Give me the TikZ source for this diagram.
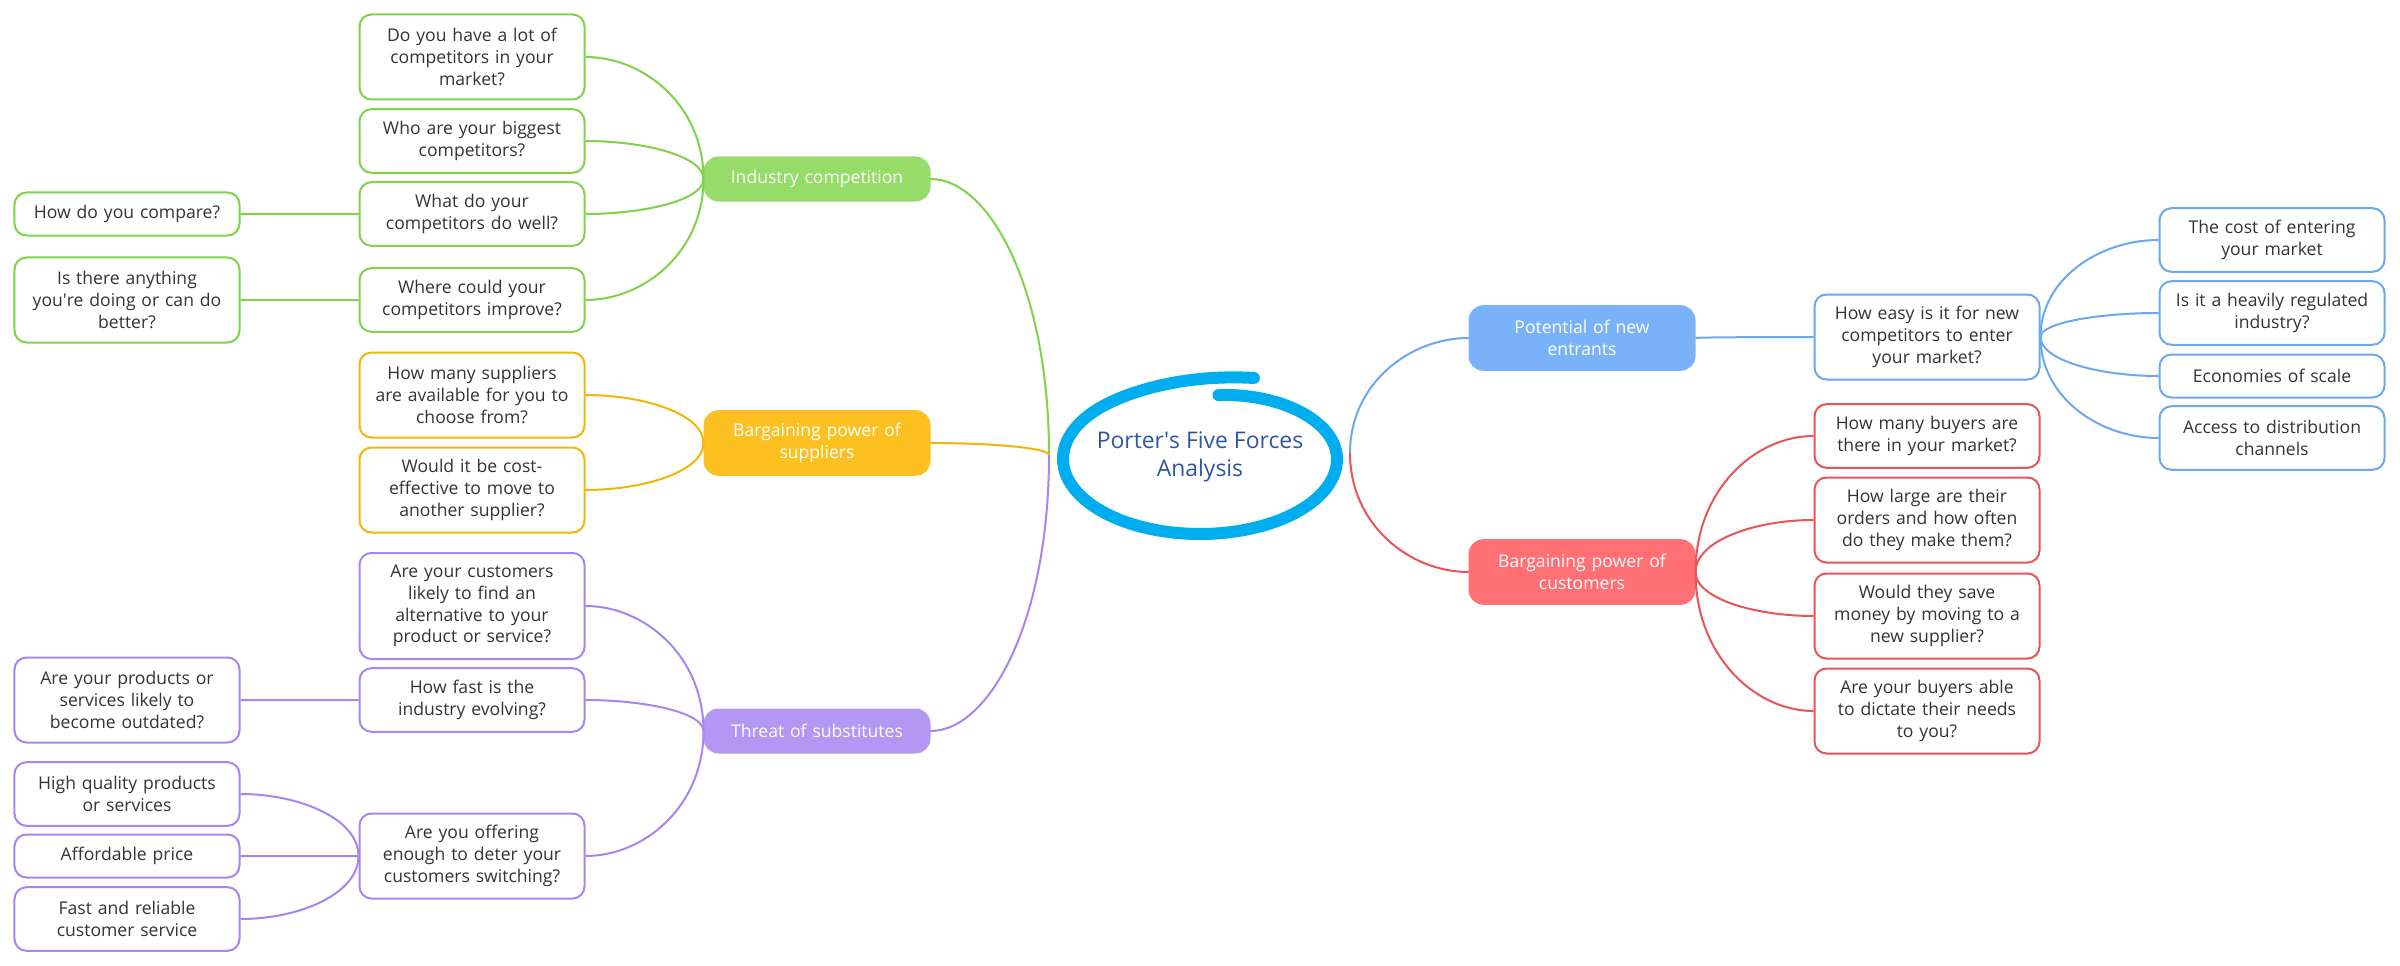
\documentclass[tikz,border=0pt]{standalone}
\usepackage{fontspec}
\setmainfont{Open Sans}
\usetikzlibrary{calc}
\definecolor{verde}{HTML}{7ED348}
\definecolor{verdeplin}{HTML}{96DC68}
\definecolor{galben}{HTML}{F2B705}
\definecolor{galbenplin}{HTML}{FCC020}
\definecolor{mov}{HTML}{A586F0}
\definecolor{movplin}{HTML}{B497F2}
\definecolor{albastru}{HTML}{6AA8F0}
\definecolor{albastruplin}{HTML}{7AB2FA}
\definecolor{rosu}{HTML}{E8545A}
\definecolor{rosuplin}{HTML}{FF7074}
\definecolor{cerc}{HTML}{00AEEF}
\definecolor{titlu}{HTML}{2F55A4}
\definecolor{textgri}{HTML}{333333}
\tikzset{
  cutie/.style  = {draw, line width=0.5mm, rounded corners=3mm, fill=white, align=center,
                   text width=52.25mm, inner xsep=2mm, inner ysep=1mm, text=textgri,
                   font=\fontsize{12.5}{15.4}\selectfont},
  tema/.style   = {cutie, rounded corners=3.5mm, text=white},
  linii1/.style = {minimum height=10.75mm},
  linii2/.style = {minimum height=15.9mm},
  linii3/.style = {minimum height=21.25mm},
  linii4/.style = {minimum height=26.5mm},
  ramura/.style = {line width=0.5mm,
                   to path={.. controls ($(\tikztostart)!0.6!(\tikztostart|-\tikztotarget)$)
                            and ($(\tikztotarget)!0.5!(\tikztostart|-\tikztotarget)$) .. (\tikztotarget)}}
}

\begin{document}
\begin{tikzpicture}[x=0.25mm, y=-0.25mm,
    declare function={spir(\t)=1+0.15*(max(0,130-\t)/60)^2-0.137*(max(0,\t-360)/81)^2;}]
    \fill[white] (0,0) rectangle (2400,966);
    \useasboundingbox (0,0) rectangle (2400,966);

    \draw[cerc, line width=3mm, line cap=round] plot[domain=70:441, samples=150, smooth]
        ({1200+137*spir(\x)*cos(\x)}, {459-75*spir(\x)*sin(\x)});
    \node[text=titlu, align=center, font=\fontsize{16.3}{19.9}\selectfont] (centru) at (1200,457) {Porter\textquotesingle s Five Forces\\Analysis};
    \coordinate (cst) at (1049,455);
    \coordinate (cdr) at (1350,453);

    \node[tema, linii1, draw=verdeplin, fill=verdeplin] (ind) at (817,179) {Industry competition};
    \node[tema, linii2, draw=galbenplin, fill=galbenplin] (furn) at (817,443) {Bargaining power of\\suppliers};
    \node[tema, linii1, draw=movplin, fill=movplin] (subst) at (817,731) {Threat of substitutes};
    \node[tema, linii2, draw=albastruplin, fill=albastruplin] (intr) at (1582,338) {Potential of new\\entrants};
    \node[tema, linii2, draw=rosuplin, fill=rosuplin] (clienti) at (1582,572) {Bargaining power of\\customers};

    \node[cutie, linii3, draw=verde] (ind1) at (472,57) {Do you have a lot of\\competitors in your\\market?};
    \node[cutie, linii2, draw=verde] (ind2) at (472,141) {Who are your biggest\\competitors?};
    \node[cutie, linii2, draw=verde] (ind3) at (472,214) {What do your\\competitors do well?};
    \node[cutie, linii2, draw=verde] (ind4) at (472,300) {Where could your\\competitors improve?};
    \node[cutie, linii1, draw=verde] (ind3a) at (127,214) {How do you compare?};
    \node[cutie, linii3, draw=verde] (ind4a) at (127,300) {Is there anything\\you\textquotesingle re doing or can do\\better?};

    \node[cutie, linii3, draw=galben] (furn1) at (472,395) {How many suppliers\\are available for you to\\choose from?};
    \node[cutie, linii3, draw=galben] (furn2) at (472,490) {Would it be cost-\\effective to move to\\another supplier?};

    \node[cutie, linii4, draw=mov] (sub1) at (472,606) {Are your customers\\likely to find an\\alternative to your\\product or service?};
    \node[cutie, linii2, draw=mov] (sub2) at (472,700) {How fast is the\\industry evolving?};
    \node[cutie, linii3, draw=mov] (sub2a) at (127,700) {Are your products or\\services likely to\\become outdated?};
    \node[cutie, linii3, draw=mov] (sub3) at (472,856) {Are you offering\\enough to deter your\\customers switching?};
    \node[cutie, linii2, draw=mov] (sub3a) at (127,794) {High quality products\\or services};
    \node[cutie, linii1, draw=mov] (sub3b) at (127,856) {Affordable price};
    \node[cutie, linii2, draw=mov] (sub3c) at (127,919) {Fast and reliable\\customer service};

    \node[cutie, linii3, draw=albastru] (intr1) at (1927,337) {How easy is it for new\\competitors to enter\\your market?};
    \node[cutie, linii2, draw=albastru] (intr1a) at (2272,240) {The cost of entering\\your market};
    \node[cutie, linii2, draw=albastru] (intr1b) at (2272,313) {Is it a heavily regulated\\industry?};
    \node[cutie, linii1, draw=albastru] (intr1c) at (2272,376) {Economies of scale};
    \node[cutie, linii2, draw=albastru] (intr1d) at (2272,438) {Access to distribution\\channels};

    \node[cutie, linii2, draw=rosu] (cli1) at (1927,436) {How many buyers are\\there in your market?};
    \node[cutie, linii3, draw=rosu] (cli2) at (1927,520) {How large are their\\orders and how often\\do they make them?};
    \node[cutie, linii3, draw=rosu] (cli3) at (1927,616) {Would they save\\money by moving to a\\new supplier?};
    \node[cutie, linii3, draw=rosu] (cli4) at (1927,711) {Are your buyers able\\to dictate their needs\\to you?};

    \draw[ramura, verde] (cst) to (ind.east);
    \draw[ramura, galben] (cst) to (furn.east);
    \draw[ramura, mov] (cst) to (subst.east);
    \draw[ramura, albastru] (cdr) to (intr.west);
    \draw[ramura, rosu] (cdr) to (clienti.west);

    \draw[ramura, verde] (ind.west) to (ind1.east);
    \draw[ramura, verde] (ind.west) to (ind2.east);
    \draw[ramura, verde] (ind.west) to (ind3.east);
    \draw[ramura, verde] (ind.west) to (ind4.east);
    \draw[ramura, verde] (ind3.west) to (ind3a.east);
    \draw[ramura, verde] (ind4.west) to (ind4a.east);

    \draw[ramura, galben] (furn.west) to (furn1.east);
    \draw[ramura, galben] (furn.west) to (furn2.east);

    \draw[ramura, mov] (subst.west) to (sub1.east);
    \draw[ramura, mov] (subst.west) to (sub2.east);
    \draw[ramura, mov] (subst.west) to (sub3.east);
    \draw[ramura, mov] (sub2.west) to (sub2a.east);
    \draw[ramura, mov] (sub3.west) to (sub3a.east);
    \draw[ramura, mov] (sub3.west) to (sub3b.east);
    \draw[ramura, mov] (sub3.west) to (sub3c.east);

    \draw[ramura, albastru] (intr.east) to (intr1.west);
    \draw[ramura, albastru] (intr1.east) to (intr1a.west);
    \draw[ramura, albastru] (intr1.east) to (intr1b.west);
    \draw[ramura, albastru] (intr1.east) to (intr1c.west);
    \draw[ramura, albastru] (intr1.east) to (intr1d.west);

    \draw[ramura, rosu] (clienti.east) to (cli1.west);
    \draw[ramura, rosu] (clienti.east) to (cli2.west);
    \draw[ramura, rosu] (clienti.east) to (cli3.west);
    \draw[ramura, rosu] (clienti.east) to (cli4.west);
\end{tikzpicture}
\end{document}
